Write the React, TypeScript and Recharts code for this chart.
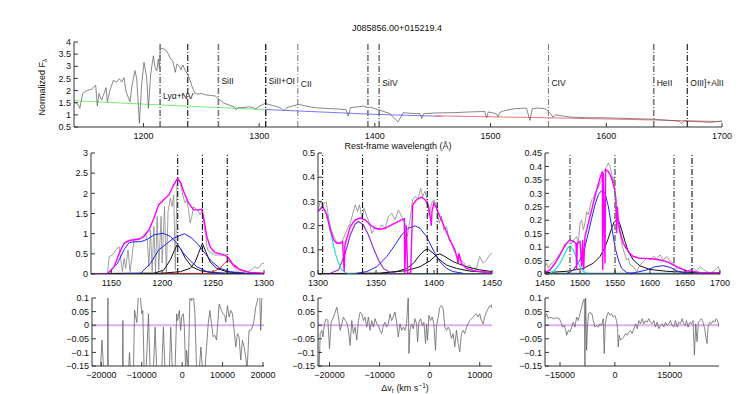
import { LineChart, Line, XAxis, YAxis, ReferenceLine } from 'recharts'

type P = [number, number]

// ---- top panel: full spectrum (Å, normalized flux) ----
const fullSpec: P[] = [
  [1140, 1.54], [1143, 1.45], [1145, 1.27], [1147.5, 1.88], [1151, 2.0], [1155, 2.05], [1158.7, 2.22], [1160.2, 1.36],
  [1161.6, 1.88], [1163.9, 1.61], [1165.4, 1.81], [1167.7, 2.12], [1168.8, 1.54], [1171.1, 2.01], [1174, 2.42],
  [1176.9, 2.35], [1179.2, 2.49], [1181.2, 2.35], [1183.2, 2.53], [1185, 1.95], [1188.4, 1.54], [1189.9, 2.15],
  [1192.7, 2.82], [1194.2, 2.49], [1196.5, 0.66], [1198.5, 2.28], [1200.5, 3.16], [1202.8, 2.55], [1204.3, 1.27],
  [1206.3, 2.69], [1208.6, 3.43], [1210, 2.96], [1211.5, 2.82], [1212.9, 3.3], [1213.8, 2.9], [1214.6, 3.75],
  [1217, 3.72], [1219, 3.68], [1221, 3.55], [1223, 3.35], [1225.5, 3.2], [1227.5, 2.75], [1229, 3.1], [1231, 3.0],
  [1232.5, 2.85], [1234, 3.05], [1236.5, 2.8], [1238.5, 2.65], [1240.5, 2.4], [1242.5, 2.1], [1244.5, 1.9],
  [1247, 1.85], [1250, 1.88], [1254, 1.82], [1258, 1.8], [1262, 1.78], [1265, 1.65], [1269, 1.5], [1274, 1.4],
  [1278, 1.34], [1280, 1.22], [1282, 1.3], [1287, 1.3], [1291, 1.33], [1295, 1.3], [1297, 1.23], [1300, 1.35],
  [1305, 1.47], [1309, 1.42], [1313, 1.37], [1318, 1.3], [1321, 1.17], [1324, 1.3], [1330, 1.38], [1334, 1.43],
  [1339, 1.38], [1345, 1.32], [1352, 1.28], [1360, 1.26], [1368, 1.24], [1375, 1.22], [1377, 0.95], [1379, 1.3],
  [1385, 1.33], [1390, 1.36], [1394, 1.3], [1396, 1.32], [1404.4, 1.19], [1413, 1.05], [1420, 0.71], [1424.6, 1.09],
  [1432, 1.06], [1439, 1.05], [1440.5, 0.85], [1442, 1.05], [1453.4, 1.08], [1467.8, 1.09], [1482, 1.12],
  [1495, 1.14], [1496.6, 0.88], [1498, 1.12], [1505, 1.05], [1506.5, 0.92], [1508, 1.1], [1511, 1.16],
  [1519.7, 1.25], [1531, 1.28], [1534, 0.77], [1536, 1.25], [1540, 1.28], [1546, 1.26], [1548.5, 1.21],
  [1552, 1.05], [1554, 0.9], [1556, 1.0], [1568.6, 0.91], [1583, 0.88], [1597.5, 0.88], [1612, 0.86],
  [1626.3, 0.84], [1640.7, 0.82], [1655, 0.77], [1663, 0.74], [1665, 0.64], [1667, 0.75], [1684, 0.71],
  [1690, 0.69], [1700, 0.75],
]
const contGreen: P[] = [[1140, 1.58], [1232, 1.37], [1305, 1.22]]
const contBlue: P[] = [[1305, 1.22], [1400, 1.02], [1458, 0.94]]
const contRed: P[] = [[1452, 0.96], [1550, 0.88], [1640, 0.79], [1700, 0.72]]
const topLineWaves = [1214.4, 1238.3, 1264.8, 1305.7, 1333.4, 1394, 1403.7, 1550, 1641, 1670]
const topLineNames = ['Lyα+NV', '', 'SiII', 'SiII+OI', 'CII', '', 'SiIV', 'CIV', 'HeII', 'OIII]+AlII']
const topTicksX = [1200, 1300, 1400, 1500, 1600, 1700]
const topTicksY = [0.5, 1, 1.5, 2, 2.5, 3, 3.5, 4]

// ---- Lyα window ----
const lyaSpec: P[] = [
  [1146.3, 0.017], [1147.9, 0.43], [1151.1, 0.47], [1154.4, 0.6], [1157.6, 0.68], [1159.3, 0.35], [1160.9, 0.06],
  [1162.5, 0.39], [1164.1, 0.14], [1166.4, 0.6], [1168.4, 0.06], [1170.6, 0.51], [1172.3, 0.85], [1175.5, 0.87],
  [1178.8, 0.89], [1180.4, 0.93], [1183.6, 1.01], [1185.3, 0.85], [1186.9, 0.18], [1188.5, 1.09], [1190.1, 0.06],
  [1191.8, 1.18], [1193.4, 0.02], [1195, 1.43], [1196.6, 0.1], [1198.9, 1.43], [1199.9, 0.27], [1202.2, 1.67],
  [1204.1, 0.04], [1205.7, 1.55], [1208, 1.88], [1209.6, 1.67], [1211.3, 1.96], [1212.9, 0.1], [1214.5, 2.25],
  [1216.1, 2.35], [1217.8, 2.25], [1219.4, 2.05], [1221, 1.88], [1222.6, 1.76], [1224.3, 1.84], [1225.9, 1.59],
  [1227.5, 1.26], [1229.1, 1.43], [1230.8, 1.67], [1232.4, 1.63], [1234, 1.59], [1235.6, 1.55], [1237.3, 1.47],
  [1239.5, 1.59], [1241.2, 1.18], [1242.8, 0.97], [1243.8, 0.68], [1245.4, 0.56], [1248.6, 0.51], [1251.9, 0.47],
  [1256.8, 0.47], [1261.6, 0.45], [1264.9, 0.41], [1268.1, 0.27], [1271.4, 0.14], [1274.6, 0.06], [1277.9, 0.02],
  [1281.1, 0.06], [1284.4, 0.06], [1287.6, 0.1], [1290.9, 0.18], [1294.1, 0.14], [1297.4, 0.25], [1300, 0.27],
]
const lyaTotal: P[] = [
  [1130, 0], [1146.3, 0.01], [1152.8, 0.18], [1157.6, 0.51], [1162.5, 0.76], [1167.4, 0.83], [1172.3, 0.85],
  [1177.1, 0.86], [1182, 0.93], [1186.9, 1.09], [1191.8, 1.38], [1196.6, 1.72], [1201.5, 1.84], [1206.4, 1.96],
  [1211.3, 2.21], [1215.2, 2.38], [1218.4, 2.25], [1221.7, 2.0], [1225.9, 1.76], [1230.8, 1.59], [1235.6, 1.59],
  [1238.9, 1.61], [1241.2, 1.34], [1243.8, 0.93], [1247, 0.68], [1251.9, 0.53], [1256.8, 0.5], [1261.6, 0.47],
  [1264.9, 0.41], [1269.8, 0.22], [1276.3, 0.1], [1286, 0.04], [1300, 0.02],
]
const lyaBroadA: P[] = [
  [1146.3, 0], [1156, 0.265], [1162.5, 0.6], [1167.4, 0.78], [1172.3, 0.8], [1178.8, 0.8], [1185.3, 0.86],
  [1191.8, 0.97], [1200.9, 1.01], [1208, 0.93], [1214.5, 0.76], [1221, 0.51], [1227.5, 0.33], [1234, 0.18],
  [1243.8, 0.06], [1256.8, 0.017], [1270, 0],
]
const lyaBroadB: P[] = [
  [1160, 0], [1178.8, 0.017], [1188.5, 0.265], [1196.6, 0.6], [1204.8, 0.76], [1211.3, 0.89], [1221.7, 1.0],
  [1229.1, 0.89], [1235.6, 0.72], [1242.1, 0.51], [1248.6, 0.31], [1256.8, 0.14], [1266.5, 0.058],
  [1282.8, 0.017], [1300, 0.005],
]
const lyaNarrow: P[] = [
  [1130, 0.01], [1170, 0.02], [1191.8, 0.017], [1201.5, 0.1], [1208, 0.35], [1211.3, 0.55], [1214.5, 0.72],
  [1217.8, 0.64], [1222.6, 0.39], [1229.1, 0.18], [1237.3, 0.083], [1250.3, 0.033], [1270, 0.015], [1300, 0.01],
]
const nvNarrow: P[] = [
  [1130, 0.005], [1200, 0.02], [1217.8, 0.058], [1227.5, 0.14], [1232.4, 0.3], [1235.6, 0.51], [1239.5, 0.76],
  [1242.8, 0.55], [1247, 0.3], [1253.5, 0.14], [1263.3, 0.058], [1276.3, 0.017], [1300, 0.005],
]
const siiiLine: P[] = [
  [1130, 0.01], [1230, 0.015], [1243.8, 0.017], [1250.3, 0.058], [1256.8, 0.141], [1261.6, 0.282],
  [1264.9, 0.331], [1269.8, 0.249], [1276.3, 0.116], [1286, 0.033], [1300, 0.01],
]
const lyaBase: P[] = [[1130, 0.006], [1300, 0.004]]
const lyaLineWaves = [1215.2, 1239.5, 1263.9]

// ---- SiIV window ----
const siivSpec: P[] = [
  [1300, 0.265], [1302, 0.3], [1304, 0.279], [1305.4, 0.293], [1307.2, 0.296], [1308.3, 0.258], [1310, 0.21],
  [1312, 0.175], [1314.9, 0.141], [1317.8, 0.127], [1320.6, 0.134], [1322.6, 0.155], [1324.9, 0.182],
  [1327.8, 0.21], [1330.1, 0.251], [1332.1, 0.286], [1334.1, 0.258], [1335.8, 0.286], [1337.8, 0.231],
  [1339.8, 0.272], [1342.1, 0.238], [1344.4, 0.21], [1346.4, 0.168], [1349.2, 0.196], [1352.1, 0.182],
  [1355, 0.203], [1357.8, 0.189], [1360.7, 0.238], [1363.6, 0.251], [1366.4, 0.224], [1369.3, 0.265],
  [1372.1, 0.238], [1375, 0.21], [1377, 0.155], [1379.3, 0.224], [1381.6, 0.307], [1383.6, 0.32],
  [1386.5, 0.313], [1388.5, 0.355], [1390.2, 0.32], [1392.2, 0.341], [1394.2, 0.307], [1395.9, 0.238],
  [1397.9, 0.293], [1399.9, 0.307], [1402.2, 0.279], [1404.5, 0.21], [1406.5, 0.238], [1408.5, 0.182],
  [1410.8, 0.196], [1413.1, 0.141], [1415.1, 0.127], [1417.1, 0.099], [1419.4, 0.079], [1422.2, 0.058],
  [1425.1, 0.051], [1428, 0.03], [1430.8, 0.037], [1433.7, 0.01], [1436.6, 0.023], [1439.4, 0.072],
  [1442.3, 0.044], [1445.2, 0.058], [1448, 0.079], [1450, 0.086],
]
const siivTotal: P[] = [
  [1300, 0.258], [1304, 0.279], [1307.7, 0.244], [1310.6, 0.182], [1313.5, 0.141], [1316.3, 0.127],
  [1319.2, 0.127], [1321.2, 0.134], [1322, 0.058], [1322.6, 0.01], [1323.2, 0.12], [1327.8, 0.196],
  [1332.1, 0.224], [1336.4, 0.231], [1340.7, 0.224], [1345, 0.203], [1349.2, 0.189], [1353.5, 0.185],
  [1357.8, 0.189], [1362.1, 0.2], [1366.4, 0.21], [1370.7, 0.221], [1374.4, 0.228], [1374.8, 0.003],
  [1376.1, 0.2], [1377.3, 0.003], [1379.9, 0.003], [1381.6, 0.286], [1385, 0.307], [1389.3, 0.318],
  [1392.2, 0.307], [1395.1, 0.286], [1397.1, 0.224], [1397.6, 0.2], [1398.3, 0.26], [1399.9, 0.293],
  [1402.2, 0.272], [1405.1, 0.238], [1409.4, 0.189], [1413.7, 0.141], [1418, 0.099], [1420, 0.065],
  [1420.8, 0.044], [1421.4, 0.086], [1423.7, 0.044], [1428, 0.023], [1433.7, 0.014], [1442.3, 0.008],
  [1450, 0.006],
]
const oiLine: P[] = [
  [1300, 0.258], [1303.4, 0.279], [1306.3, 0.258], [1309.2, 0.21], [1312, 0.148], [1314.9, 0.086],
  [1317.8, 0.044], [1320.6, 0.017], [1324.9, 0.003], [1333.5, 0],
]
const ciiLine: P[] = [
  [1310.6, 0.003], [1317.8, 0.017], [1323.5, 0.086], [1327.8, 0.161], [1332.1, 0.207], [1334.9, 0.217],
  [1339.2, 0.203], [1343.5, 0.161], [1347.8, 0.106], [1352.1, 0.058], [1356.4, 0.023], [1362.1, 0.006],
  [1370.7, 0],
]
const siivBroad: P[] = [
  [1333.5, 0.003], [1342.1, 0.01], [1350.7, 0.03], [1359.3, 0.072], [1366.4, 0.12], [1372.1, 0.162],
  [1377.9, 0.189], [1383.6, 0.199], [1387.9, 0.189], [1393.6, 0.155], [1399.3, 0.099], [1405.1, 0.051],
  [1410.8, 0.023], [1416.5, 0.01], [1425.1, 0.003],
]
const siivNarrowA: P[] = [
  [1300, 0.002], [1353.5, 0.003], [1367.9, 0.01], [1376.4, 0.023], [1382.2, 0.044], [1387.9, 0.079],
  [1392.2, 0.099], [1395.1, 0.102], [1399.3, 0.086], [1405.1, 0.058], [1410.8, 0.037], [1419.4, 0.023],
  [1430.8, 0.012], [1450, 0.006],
]
const siivNarrowB: P[] = [
  [1300, 0.001], [1353.5, 0.003], [1376.4, 0.014], [1387.9, 0.03], [1396.5, 0.054], [1402.2, 0.079],
  [1405.1, 0.083], [1409.4, 0.072], [1416.5, 0.051], [1428, 0.03], [1439.4, 0.017], [1450, 0.01],
]
const siivBase: P[] = [[1300, 0.002], [1450, 0.002]]
const siivLineWaves = [1304, 1338.4, 1394.2, 1402.8]

// ---- CIV window ----
const civSpec: P[] = [
  [1450, 0.027], [1452.4, 0.04], [1454.8, 0.021], [1457.1, 0.034], [1461.9, 0.046], [1466.7, 0.058],
  [1471.4, 0.077], [1475.2, 0.09], [1478.6, 0.1], [1481, 0.114], [1484.8, 0.127], [1488.1, 0.114],
  [1491.4, 0.127], [1495.2, 0.139], [1497.6, 0.114], [1500, 0.189], [1502.4, 0.201], [1504.8, 0.164],
  [1507.1, 0.189], [1509.5, 0.232], [1511.9, 0.22], [1514.3, 0.251], [1516.7, 0.276], [1519, 0.282],
  [1521.4, 0.301], [1523.8, 0.313], [1526.2, 0.319], [1528.6, 0.338], [1531, 0.351], [1533.3, 0.375],
  [1535.7, 0.388], [1538.1, 0.4], [1540.5, 0.413], [1542.9, 0.4], [1545.2, 0.375], [1547.6, 0.338],
  [1549, 0.363], [1550.5, 0.251], [1552.4, 0.195], [1554.8, 0.177], [1557.1, 0.152], [1559.5, 0.114],
  [1561.9, 0.09], [1564.3, 0.071], [1566.7, 0.052], [1569, 0.058], [1571.4, 0.034], [1576.2, 0.027],
  [1581, 0.009], [1585.7, 0.034], [1590.5, 0.046], [1595.2, 0.058], [1600, 0.052], [1604.8, 0.065],
  [1609.5, 0.058], [1614.3, 0.071], [1619, 0.052], [1623.8, 0.065], [1628.6, 0.046], [1633.3, 0.04],
  [1638.1, 0.021], [1642.9, 0.027], [1647.6, 0.015], [1652.4, 0.009], [1657.1, 0.015], [1661.9, 0.021],
  [1666.7, 0.012], [1671.4, 0.027], [1676.2, 0.017], [1681, 0.009], [1685.7, 0.005], [1690.5, 0.009],
  [1695.2, 0.021], [1697.6, 0.027], [1700, 0.005],
]
const civTotal: P[] = [
  [1450, 0.005], [1457.1, 0.015], [1464.3, 0.04], [1471.4, 0.071], [1478.6, 0.108], [1485.7, 0.127],
  [1490.5, 0.121], [1494.3, 0.114], [1495.2, 0.015], [1496.2, 0.114], [1500, 0.121], [1502.4, 0.027],
  [1503.8, 0.127], [1505.2, 0.015], [1507.1, 0.139], [1509.5, 0.164], [1514.3, 0.214], [1519, 0.264],
  [1523.8, 0.313], [1528.6, 0.357], [1531.9, 0.381], [1532.4, 0.015], [1533.3, 0.375], [1535.7, 0.04],
  [1536.6, 0.388], [1540.5, 0.381], [1545.2, 0.357], [1550, 0.307], [1551.4, 0.276], [1552.4, 0.152],
  [1553.3, 0.251], [1554.8, 0.201], [1557.1, 0.158], [1561.9, 0.114], [1569, 0.083], [1576.2, 0.065],
  [1585.7, 0.058], [1595.2, 0.058], [1604.8, 0.056], [1614.3, 0.052], [1623.8, 0.046], [1633.3, 0.034],
  [1642.9, 0.021], [1652.4, 0.012], [1671.4, 0.006], [1700, 0.004],
]
const nivLine: P[] = [
  [1457.1, 0.002], [1464.3, 0.015], [1471.4, 0.04], [1478.6, 0.077], [1483.3, 0.1], [1486.7, 0.102],
  [1490.5, 0.09], [1495.2, 0.058], [1500, 0.027], [1504.8, 0.009], [1511.9, 0.002],
]
const civBroad: P[] = [
  [1481, 0.002], [1490.5, 0.015], [1500, 0.052], [1507.1, 0.102], [1511.9, 0.152], [1516.7, 0.207],
  [1521.4, 0.257], [1526.2, 0.295], [1531, 0.311], [1535.7, 0.301], [1540.5, 0.251], [1545.2, 0.177],
  [1550, 0.1], [1554.8, 0.052], [1559.5, 0.021], [1566.7, 0.005], [1576.2, 0.002],
]
const heiiBroad: P[] = [
  [1571.4, 0.002], [1585.7, 0.009], [1597.6, 0.017], [1607.1, 0.027], [1619, 0.031], [1628.6, 0.025],
  [1638.1, 0.012], [1647.6, 0.005], [1657.1, 0.002],
]
const civNarrow: P[] = [
  [1450, 0.005], [1481, 0.01], [1504.8, 0.021], [1519, 0.04], [1528.6, 0.065], [1535.7, 0.1],
  [1540.5, 0.133], [1545.2, 0.17], [1549, 0.195], [1552.4, 0.201], [1555.7, 0.195], [1559.5, 0.164],
  [1564.3, 0.121], [1569, 0.083], [1576.2, 0.052], [1585.7, 0.03], [1600, 0.017], [1623.8, 0.01],
  [1647.6, 0.007], [1671.4, 0.005], [1700, 0.004],
]
const civBase: P[] = [[1450, 0.002], [1700, 0.002]]
const civLineWaves = [1485.7, 1550, 1634.3, 1660]

// ---- residuals (km/s, residual flux) ----
const lyaResid: P[] = [
  [-20246, -0.165], [-19836, -0.055], [-19425, -0.165], [-18439, -0.165], [-18357, 0.115], [-18275, -0.165],
  [-14743, -0.165], [-14661, 0.017], [-14579, -0.165], [-13265, -0.165], [-13018, -0.101], [-12772, -0.165],
  [-12032, -0.165], [-11786, 0.056], [-11211, 0.01], [-10800, 0.115], [-10390, 0.115], [-9979, 0.042],
  [-9733, 0.054], [-9404, -0.165], [-8911, -0.165], [-8336, 0.042], [-7925, -0.165], [-7104, -0.165],
  [-6693, -0.007], [-6283, -0.165], [-5050, -0.165], [-4640, -0.007], [-4229, -0.165], [-3161, -0.165],
  [-2833, -0.007], [-2422, -0.165], [-1765, -0.165], [-1354, 0.042], [-1108, 0.017], [-697, 0.054],
  [-369, -0.019], [-123, 0.03], [289, 0.042], [535, -0.007], [864, -0.165], [1110, -0.092], [1521, -0.165],
  [1931, 0.115], [2342, 0.09], [2753, 0.115], [3164, 0.042], [3574, -0.165], [4231, -0.165], [4642, -0.08],
  [5053, -0.165], [5628, -0.165], [6038, -0.08], [6449, 0.005], [6860, 0.054], [7271, 0.005], [7681, -0.043],
  [8092, -0.037], [8503, -0.055], [9160, 0.078], [9735, 0.054], [10146, 0.042], [10556, 0.036],
  [10803, 0.011], [11213, 0.072], [11624, 0.03], [12035, 0.054], [12446, 0.042], [12856, -0.019],
  [13267, -0.08], [13678, -0.031], [14088, -0.043], [14499, -0.128], [14910, -0.055], [15321, -0.08],
  [15731, -0.116], [16060, -0.165], [16553, -0.019], [16963, -0.019], [17374, -0.007], [17785, 0.017],
  [18196, 0.066], [18606, 0.09], [18771, 0.115], [19182, 0.115], [19428, -0.019], [19757, 0.115],
  [20250, 0.115],
]
const siivResid: P[] = [
  [-22323, -0.146], [-22058, -0.15], [-21858, -0.031], [-21527, -0.019], [-21327, -0.043], [-20996, 0.005],
  [-20664, 0.024], [-20332, 0.017], [-20000, -0.086], [-19668, 0.011], [-19204, 0.03], [-18872, 0.048],
  [-18540, 0.066], [-18208, 0.03], [-17876, -0.019], [-17544, 0.005], [-17212, 0.03], [-16881, 0.017],
  [-16549, 0.011], [-16217, -0.019], [-15885, -0.074], [-15553, 0.017], [-15221, -0.031], [-14890, -0.007],
  [-14558, -0.055], [-14226, 0.017], [-13894, 0.048], [-13562, 0.042], [-13230, 0.017], [-12898, 0.03],
  [-12567, -0.007], [-12235, 0.03], [-11903, -0.019], [-11571, 0.017], [-11239, -0.007], [-10907, 0.024],
  [-10575, 0.005], [-10244, -0.001], [-9912, -0.019], [-9580, -0.031], [-9248, -0.001], [-8916, 0.011],
  [-8584, -0.007], [-8252, 0.005], [-7921, 0.042], [-7589, 0.017], [-7257, 0.03], [-6925, 0.048],
  [-6593, 0.011], [-6261, -0.043], [-5929, 0.005], [-5598, -0.019], [-5266, -0.007], [-4934, -0.019],
  [-4602, 0.005], [-4270, 0.115], [-4137, -0.104], [-3938, -0.019], [-3606, 0.005], [-3275, -0.013],
  [-2943, 0.024], [-2611, 0.005], [-2412, -0.061], [-2146, 0.011], [-1815, 0.024], [-1483, -0.001],
  [-1151, 0.011], [-819, -0.067], [-620, 0.005], [-420, -0.055], [-155, 0.036], [177, 0.017], [509, 0.03],
  [841, 0.005], [1172, -0.092], [1371, -0.001], [1703, 0.03], [2035, 0.066], [2367, 0.072], [2699, 0.06],
  [3030, -0.007], [3362, -0.019], [3694, -0.007], [4026, -0.019], [4358, -0.049], [4690, -0.031],
  [5021, -0.08], [5353, -0.019], [5685, -0.067], [6017, -0.098], [6349, -0.031], [6681, -0.019],
  [7013, -0.031], [7344, -0.007], [7676, 0.005], [8008, 0.017], [8340, 0.024], [8672, 0.03], [9004, 0.036],
  [9335, 0.042], [9667, 0.03], [10000, 0.042], [10332, 0.017], [10664, 0.005], [10996, 0.03],
  [11328, 0.048], [11659, 0.06], [11991, 0.072], [12323, 0.066], [12456, 0.078],
]
const civResid: P[] = [
  [-19089, 0.03], [-18635, 0.042], [-18180, 0.024], [-17726, 0.03], [-16817, 0.024], [-15908, 0.027],
  [-15180, 0.024], [-14726, 0.011], [-14271, -0.007], [-13817, -0.001], [-13453, -0.019], [-13181, -0.037],
  [-12726, -0.019], [-12272, -0.025], [-11817, -0.007], [-11363, 0.011], [-10908, -0.007], [-10454, 0.03],
  [-9999, 0.017], [-9545, 0.042], [-9090, 0.066], [-8636, 0.09], [-8363, 0.096], [-8181, -0.165],
  [-7999, 0.115], [-7727, -0.092], [-7454, 0.005], [-7181, 0.042], [-6818, 0.048], [-6545, 0.042],
  [-6272, 0.042], [-5909, 0.017], [-5454, -0.007], [-5000, -0.001], [-4545, -0.007], [-4091, 0.005],
  [-3636, -0.001], [-3182, 0.024], [-2909, -0.104], [-2636, 0.005], [-2273, 0.03], [-1818, 0.048],
  [-1364, 0.036], [-909, 0.042], [-455, 0.03], [0, 0.036], [455, 0.017], [727, -0.013], [909, -0.08],
  [1182, -0.037], [1545, -0.055], [2000, -0.049], [2454, -0.043], [2909, -0.031], [3363, -0.037],
  [3818, -0.025], [4272, -0.019], [4727, -0.031], [5181, -0.013], [5636, 0.005], [6090, -0.013],
  [6545, 0.017], [6999, 0.005], [7454, 0.024], [7908, 0.005], [8363, 0.017], [8817, 0.011], [9272, 0.024],
  [9726, 0.011], [10181, 0.005], [10635, 0.017], [11090, -0.007], [11544, 0.011], [11999, -0.013],
  [12453, -0.001], [12908, 0.005], [13362, -0.007], [13817, 0.011], [14271, -0.001], [14726, 0.005],
  [15180, 0.017], [15635, -0.001], [16089, -0.007], [16544, 0.017], [16998, -0.007], [17453, 0.011],
  [17907, 0.005], [18362, 0.024], [18816, 0.005], [19271, -0.001], [19544, 0.017], [19998, -0.007],
  [20453, 0.011], [20907, 0.005], [21362, 0.017], [21725, -0.11], [22089, 0.005], [22452, -0.061],
  [22816, 0.011], [23180, 0.017], [23634, 0.024], [24089, 0.011], [24543, -0.013], [24998, -0.055],
  [25179, -0.067], [25452, -0.007], [25907, 0.011], [26361, 0.005], [26816, 0.017], [27270, 0.011],
  [27725, 0.024], [28179, 0.011], [28452, -0.007],
]
const residTicksY = [-0.15, -0.1, -0.05, 0, 0.05, 0.1]

const FONT = '"Liberation Sans", Arial, Helvetica, sans-serif'
const DASH = '6 2 1 2'

const fmt = (v: number) => (v < 0 ? '\u2212' + String(-v) : String(v))
const blank = () => ''

interface Series { data: P[]; color: string; width?: number }
interface VLine { x: number; color: string; width: number; label?: string; dy?: number }
interface PanelProps {
  left: number
  top: number
  plotW: number
  plotH: number
  yw: number
  xDomain: [number, number]
  yDomain: [number, number]
  xTicks: number[]
  yTicks: number[]
  series: Series[]
  vlines?: VLine[]
  zero?: boolean
}

const tag = (text: string, dy: number) => (props: any) => {
  const vb = props.viewBox || {}
  return (
    <text x={vb.x + 3} y={vb.y + dy} fontSize={8.5} fill="#111" fontFamily={FONT} dominantBaseline="central">
      {text}
    </text>
  )
}

function Panel({ left, top, plotW, plotH, yw, xDomain, yDomain, xTicks, yTicks, series, vlines = [], zero }: PanelProps) {
  const tick = { fontSize: 9, fill: '#111', fontFamily: FONT }
  return (
    <div style={{ position: 'absolute', left: left - yw, top: top - 6 }}>
      <LineChart width={yw + plotW + 14} height={6 + plotH + 22} margin={{ top: 6, right: 14, bottom: 0, left: 0 }}>
        <XAxis dataKey="x" type="number" domain={xDomain} ticks={xTicks} interval={0} allowDataOverflow
          height={22} tickSize={-4} tickMargin={10} tick={tick} tickFormatter={fmt} stroke="#333" />
        <XAxis xAxisId="t" orientation="top" type="number" domain={xDomain} ticks={xTicks} interval={0}
          allowDataOverflow height={0} tickSize={-3} tickFormatter={blank} stroke="#333" />
        <YAxis type="number" domain={yDomain} ticks={yTicks} interval={0} allowDataOverflow width={yw}
          tickSize={-4} tickMargin={7} tick={tick} tickFormatter={fmt} stroke="#333" />
        <YAxis yAxisId="r" orientation="right" type="number" domain={yDomain} ticks={yTicks} interval={0}
          allowDataOverflow width={0} tickSize={-3} tickFormatter={blank} stroke="#333" />
        {zero && <ReferenceLine y={0} stroke="#dcb0f2" strokeWidth={2} />}
        {series.map((s, i) => (
          <Line key={i} data={s.data.map(([x, y]) => ({ x, y }))} dataKey="y" type="linear" stroke={s.color}
            strokeWidth={s.width ?? 1} dot={false} activeDot={false} isAnimationActive={false} />
        ))}
        {vlines.map((v, i) => (
          <ReferenceLine key={'v' + i} x={v.x} stroke={v.color} strokeWidth={v.width} strokeDasharray={DASH}
            label={v.label ? tag(v.label, v.dy ?? 40) : undefined} />
        ))}
      </LineChart>
    </div>
  )
}

const GRAY = '#777'
const BLACK = '#111'
const topStyle = [
  [GRAY, 1.6], [BLACK, 1.1], [GRAY, 1.6], [BLACK, 1.3], [GRAY, 1], [GRAY, 1.6], [GRAY, 1.6], [GRAY, 1], [GRAY, 1.6], [BLACK, 1.1],
] as const
const topDy = [54, 0, 39, 39, 42, 0, 41, 41, 41, 41]

export default function App() {
  const topVLines: VLine[] = topLineWaves.map((x, i) => ({
    x, color: topStyle[i][0], width: topStyle[i][1], label: topLineNames[i] || undefined, dy: topDy[i],
  }))
  const blackLines = (xs: number[]): VLine[] => xs.map((x) => ({ x, color: BLACK, width: 1.1 }))
  const civVLines: VLine[] = civLineWaves.map((x, i) => ({ x, color: i < 3 ? GRAY : BLACK, width: i < 3 ? 1.6 : 1.1 }))

  return (
    <div style={{ position: 'absolute', left: 0, top: 0, width: 750, height: 394, background: '#fff', fontFamily: FONT }}>
      <Panel left={74} top={42} plotW={648} plotH={85} yw={44} xDomain={[1140, 1700]} yDomain={[0.5, 4]}
        xTicks={topTicksX} yTicks={topTicksY} vlines={topVLines}
        series={[
          { data: contGreen, color: '#77ee77', width: 1 },
          { data: contBlue, color: '#7777ff', width: 1 },
          { data: contRed, color: '#ee7777', width: 1 },
          { data: fullSpec, color: '#555', width: 0.7 },
        ]} />
      <Panel left={91} top={153} plotW={173} plotH={121} yw={36} xDomain={[1130, 1300]} yDomain={[0, 3]}
        xTicks={[1150, 1200, 1250, 1300]} yTicks={[0, 0.5, 1, 1.5, 2, 2.5, 3]} vlines={blackLines(lyaLineWaves)}
        series={[
          { data: lyaSpec, color: '#888', width: 0.8 },
          { data: lyaBase, color: '#cc3333', width: 1 },
          { data: siiiLine, color: '#ff2020', width: 1 },
          { data: lyaNarrow, color: '#111', width: 1 },
          { data: nvNarrow, color: '#111', width: 1 },
          { data: lyaBroadA, color: '#2020ff', width: 1 },
          { data: lyaBroadB, color: '#2020ff', width: 1 },
          { data: lyaTotal, color: '#ff00ff', width: 1.4 },
        ]} />
      <Panel left={318} top={153} plotW={174} plotH={121} yw={36} xDomain={[1300, 1450]} yDomain={[0, 0.5]}
        xTicks={[1300, 1350, 1400, 1450]} yTicks={[0, 0.1, 0.2, 0.3, 0.4, 0.5]} vlines={blackLines(siivLineWaves)}
        series={[
          { data: siivSpec, color: '#888', width: 0.8 },
          { data: siivBase, color: '#2a7a8a', width: 1.2 },
          { data: siivNarrowA, color: '#111', width: 1 },
          { data: siivNarrowB, color: '#111', width: 1 },
          { data: siivBroad, color: '#2020ff', width: 1 },
          { data: ciiLine, color: '#9933cc', width: 1.2 },
          { data: oiLine, color: '#22dddd', width: 1.2 },
          { data: siivTotal, color: '#ff00ff', width: 1.4 },
        ]} />
      <Panel left={545} top={153} plotW={175} plotH={121} yw={40} xDomain={[1450, 1700]} yDomain={[0, 0.45]}
        xTicks={[1450, 1500, 1550, 1600, 1650, 1700]}
        yTicks={[0, 0.05, 0.1, 0.15, 0.2, 0.25, 0.3, 0.35, 0.4, 0.45]} vlines={civVLines}
        series={[
          { data: civSpec, color: '#888', width: 0.8 },
          { data: civBase, color: '#3a7a9a', width: 1.2 },
          { data: civNarrow, color: '#111', width: 1 },
          { data: heiiBroad, color: '#2020ff', width: 1 },
          { data: civBroad, color: '#2020ff', width: 1 },
          { data: nivLine, color: '#22dddd', width: 1.2 },
          { data: civTotal, color: '#ff00ff', width: 1.4 },
        ]} />
      <Panel left={92} top={298} plotW={172} plotH={68} yw={42} xDomain={[-22300, 20250]} yDomain={[-0.15, 0.1]}
        xTicks={[-20000, -10000, 0, 10000, 20000]} yTicks={residTicksY} zero
        series={[{ data: lyaResid, color: '#666', width: 0.8 }]} />
      <Panel left={318} top={298} plotW={174} plotH={68} yw={42} xDomain={[-22300, 12450]} yDomain={[-0.15, 0.1]}
        xTicks={[-20000, -10000, 0, 10000]} yTicks={residTicksY} zero
        series={[{ data: siivResid, color: '#666', width: 0.8 }]} />
      <Panel left={545} top={298} plotW={174} plotH={68} yw={42} xDomain={[-19100, 28450]} yDomain={[-0.15, 0.1]}
        xTicks={[-15000, 0, 15000]} yTicks={residTicksY} zero
        series={[{ data: civResid, color: '#666', width: 0.8 }]} />
      <svg width={750} height={394} style={{ position: 'absolute', left: 0, top: 0, pointerEvents: 'none' }}
        fontFamily={FONT} fill="#111">
        <text x={397} y={28} fontSize={9} textAnchor="middle" dominantBaseline="central">J085856.00+015219.4</text>
        <text x={398} y={146} fontSize={9} textAnchor="middle" dominantBaseline="central">Rest-frame wavelength (Å)</text>
        <text x={405} y={388} fontSize={9} textAnchor="middle" dominantBaseline="central">
          Δv<tspan fontSize={6.5} dy={2}>r</tspan><tspan dy={-2}> (km s</tspan>
          <tspan fontSize={6.5} dy={-3}>−1</tspan><tspan dy={3}>)</tspan>
        </text>
        <text x={42} y={87} fontSize={9} textAnchor="middle" dominantBaseline="central" transform="rotate(-90 42 87)">
          Normalized F<tspan fontSize={6.5} dy={2}>λ</tspan>
        </text>
      </svg>
    </div>
  )
}
